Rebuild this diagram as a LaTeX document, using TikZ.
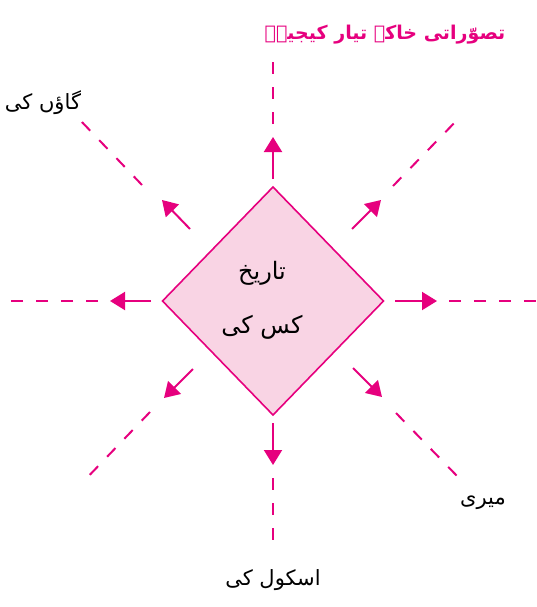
\documentclass[tikz,border=0pt]{standalone}
\usepackage{fontspec}
\newfontfamily\urdu[Script=Arabic]{DejaVu Sans}
\newfontfamily\urdubold[Script=Arabic]{DejaVu Sans Bold}
\TeXXeTstate=1
\usetikzlibrary{arrows.meta,shapes.geometric}
\definecolor{mag}{RGB}{230,0,126}
\definecolor{pinkfill}{RGB}{249,212,228}
\tikzset{
  arr/.style={draw=mag, line width=2pt, -{Triangle[length=15pt,width=18pt]}},
  dsh/.style={draw=mag, line width=2pt, dash pattern=on 12pt off 13pt},
  lbl/.style={font=\urdu\fontsize{21}{24}\selectfont, text=black, inner sep=0pt},
}
\begin{document}
\begin{tikzpicture}[x=1pt,y=-1pt]
\useasboundingbox (0,0) rectangle (536,607);
% centre box
\node[diamond, draw=mag, fill=pinkfill, line width=1.6pt, minimum width=221pt, minimum height=228pt, inner sep=0pt, outer sep=0pt] (d) at (273,301) {};
\node[lbl, align=center, font=\urdu\fontsize{24}{54}\selectfont] (dtext) at (262,300) {\beginR تاریخ\endR\\\beginR کس کی\endR};
% coordinates
\coordinate (nT) at (273,179); \coordinate (nH) at (273,137); \coordinate (nD1) at (273,124); \coordinate (nD2) at (273,60);
\coordinate (sT) at (273,423); \coordinate (sH) at (273,465); \coordinate (sD1) at (273,478); \coordinate (sD2) at (273,542);
\coordinate (wT) at (151,301); \coordinate (wH) at (110,301); \coordinate (wD1) at (98,301); \coordinate (wD2) at (8,301);
\coordinate (eT) at (395,301); \coordinate (eH) at (437,301); \coordinate (eD1) at (449,301); \coordinate (eD2) at (536,301);
\coordinate (nwT) at (190,229); \coordinate (nwH) at (162,200); \coordinate (nwD1) at (142,185); \coordinate (nwD2) at (80,120);
\coordinate (neT) at (352,229); \coordinate (neH) at (381,200); \coordinate (neD1) at (393,186); \coordinate (neD2) at (462,115);
\coordinate (swT) at (193,369); \coordinate (swH) at (164,398); \coordinate (swD1) at (150,412); \coordinate (swD2) at (82,483);
\coordinate (seT) at (353,368); \coordinate (seH) at (382,397); \coordinate (seD1) at (396,413); \coordinate (seD2) at (458,477);
% arrows
\foreach \p in {n,s,w,e,nw,ne,sw,se}{
  \draw[arr] (\p T) -- (\p H);
  \draw[dsh] (\p D1) -- (\p D2);
}
% labels
\node[lbl] (village) at (43,103) {\beginR گاؤں کی\endR};
\node[lbl] (mine) at (483,503) {\beginR میری\endR};
\node[lbl] (school) at (273,580) {\beginR اسکول کی\endR};
\node[lbl, text=mag, font=\urdubold\fontsize{19}{24}\selectfont] (title) at (385,35) {\beginR تصوّراتی خاکہ تیار کیجیے۔\endR};
\end{tikzpicture}
\end{document}
